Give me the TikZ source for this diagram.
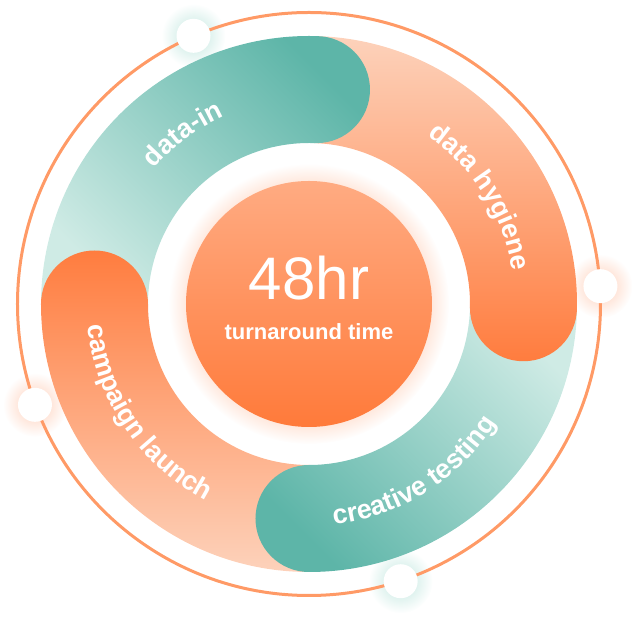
\documentclass[tikz,border=0pt]{standalone}
\usepackage{fontspec}
\setmainfont{Liberation Sans}
\usetikzlibrary{decorations.text,fadings}

\definecolor{tealdark}{HTML}{5DB5A8}
\definecolor{teallight}{HTML}{CFEBE5}
\definecolor{orangestrong}{HTML}{FF7C3E}
\definecolor{peachlight}{HTML}{FDD2BB}
\definecolor{ringline}{HTML}{FF9A66}
\definecolor{disctop}{HTML}{FFAB82}
\definecolor{discbottom}{HTML}{FF7A3A}
\definecolor{glowteal}{HTML}{BFE6DE}
\definecolor{gloworange}{HTML}{FFCDB6}
\definecolor{discglow}{HTML}{FFDCCB}

\tikzfading[name=glowfade, inner color=transparent!0, outer color=transparent!100]

\newcommand{\labelfont}{\bfseries\fontsize{27}{30}\selectfont}

\tikzset{
  datain/.style={top color=tealdark, bottom color=teallight, shading angle=-45},
  hygiene/.style={top color=peachlight, bottom color=orangestrong},
  creative/.style={top color=teallight, bottom color=tealdark, shading angle=-45},
  campaign/.style={top color=orangestrong, bottom color=peachlight},
  ringdot/.style={fill=white},
  steplabel/.style={decorate, decoration={text along path, text align=center,
    text color=white, text={|\labelfont|#1}}}
}

\begin{document}
\begin{tikzpicture}[x=1pt,y=1pt]
	\useasboundingbox (-309,-313) rectangle (329,304);
	
	\coordinate (dotA) at (113.3:292);
	\coordinate (dotB) at (3.5:292);
	\coordinate (dotC) at (200.2:292);
	\coordinate (dotD) at (-71.7:292);
	
	% soft glows
	\fill[discglow, path fading=circle with fuzzy edge 20 percent] (0,0) circle (140);
	\fill[glowteal, path fading=glowfade] (dotA) circle (32);
	\fill[gloworange, path fading=glowfade] (dotB) circle (32);
	\fill[gloworange, path fading=glowfade] (dotC) circle (32);
	\fill[glowteal, path fading=glowfade] (dotD) circle (32);
	
	% band bodies
	\begin{scope}
		\clip (180:161) -- (180:268) arc[start angle=180, end angle=88, radius=268] -- (88:161) arc[start angle=88, end angle=180, radius=161] -- cycle;
		\shade[datain] (-268,0) rectangle (64,268);
	\end{scope}
	\begin{scope}
		\clip (88:161) -- (88:268) arc[start angle=88, end angle=-1, radius=268] -- (-1:161) arc[start angle=-1, end angle=88, radius=161] -- cycle;
		\shade[hygiene] (-2,-58) rectangle (268,268);
	\end{scope}
	\begin{scope}
		\clip (-1:161) -- (-1:268) arc[start angle=-1, end angle=-90, radius=268] -- (-90:161) arc[start angle=-90, end angle=-1, radius=161] -- cycle;
		\shade[creative] (-56,-268) rectangle (268,4);
	\end{scope}
	\begin{scope}
		\clip (270:161) -- (270:268) arc[start angle=270, end angle=180, radius=268] -- (180:161) arc[start angle=180, end angle=270, radius=161] -- cycle;
		\shade[campaign] (-268,-268) rectangle (2,56);
	\end{scope}
	
	% round heads
	\begin{scope}
		\clip (88:214.5) circle (53.5);
		\shade[datain] (-268,0) rectangle (64,268);
	\end{scope}
	\begin{scope}
		\clip (-1:214.5) circle (53.5);
		\shade[hygiene] (-2,-58) rectangle (268,268);
	\end{scope}
	\begin{scope}
		\clip (-90:214.5) circle (53.5);
		\shade[creative] (-56,-268) rectangle (268,4);
	\end{scope}
	\begin{scope}
		\clip (180:214.5) circle (53.5);
		\shade[campaign] (-268,-268) rectangle (2,56);
	\end{scope}
	
	% labels
	\path[steplabel={data-in}] (186.5:206) arc[start angle=186.5, end angle=66.5, radius=206];
	\path[steplabel={data hygiene}] (92:206) arc[start angle=92, end angle=-28, radius=206];
	\path[steplabel={creative testing}] (-118:222) arc[start angle=-118, end angle=2, radius=222];
	\path[steplabel={campaign launch}] (154:222) arc[start angle=154, end angle=274, radius=222];
	
	% outer ring and dots
	\draw[ringline, line width=3] (0,0) circle (291.5);
	\fill[ringdot] (dotA) circle (17);
	\fill[ringdot] (dotB) circle (17);
	\fill[ringdot] (dotC) circle (17);
	\fill[ringdot] (dotD) circle (17);
	
	% hub
	\shade[top color=disctop, bottom color=discbottom] (0,0) circle (123);
	\node[white, anchor=base, font=\fontsize{60}{60}\selectfont] (hours) at (0,4) {48hr};
	\node[white, anchor=base, font=\bfseries\fontsize{22}{24}\selectfont] (caption) at (0,-36) {turnaround time};
\end{tikzpicture}
\end{document}
